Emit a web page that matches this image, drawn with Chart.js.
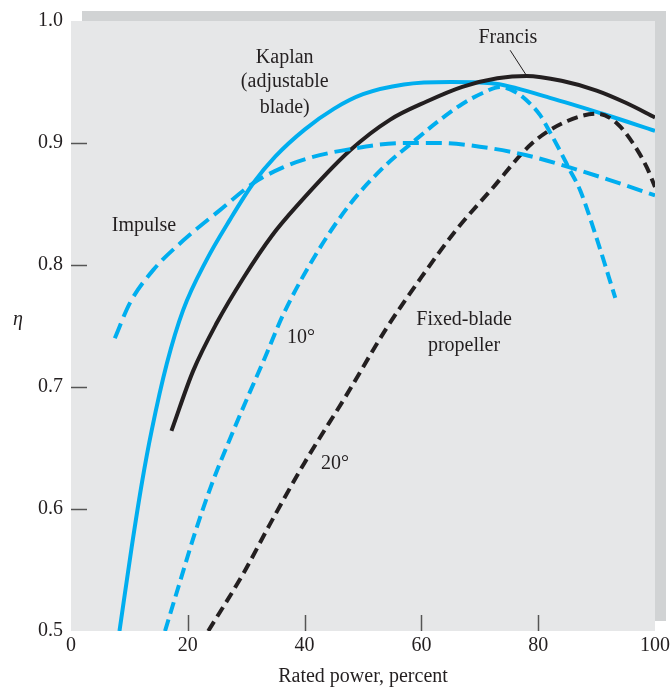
<!DOCTYPE html>
<html>
<head>
<meta charset="utf-8">
<script src="https://cdn.jsdelivr.net/npm/chart.js@4/dist/chart.umd.min.js"></script>
<style>
html,body{margin:0;padding:0;background:#fff;}
#wrap{width:671px;height:689px;}
</style>
</head>
<body>
<div id="wrap"><canvas id="c" width="671" height="689"></canvas></div>
<script>
// Rated power, percent (x) and efficiency eta (y)
const kaplanX  = [8.3, 10.4, 12.2, 13.8, 16.4, 19.2, 23.2, 27.2, 31.2, 35, 40, 45, 50, 57, 65, 72, 82, 91, 100];
const kaplanY  = [0.5, 0.569, 0.623, 0.664, 0.719, 0.763, 0.804, 0.837, 0.867, 0.889, 0.911, 0.928, 0.940, 0.948, 0.950, 0.949, 0.937, 0.924, 0.910];

const francisX = [17.2, 20.9, 24.9, 29.6, 34.4, 38.6, 47.8, 54.6, 60.9, 67, 73, 78, 84, 90, 95, 100];
const francisY = [0.664, 0.713, 0.752, 0.790, 0.824, 0.848, 0.894, 0.919, 0.934, 0.946, 0.953, 0.955, 0.951, 0.943, 0.933, 0.921];

const impulseX = [7.5, 10.1, 14.1, 19.2, 25.5, 31.2, 36.3, 41, 47.8, 57, 63, 70, 78, 85.4, 92, 100];
const impulseY = [0.740, 0.769, 0.796, 0.820, 0.845, 0.867, 0.880, 0.888, 0.895, 0.900, 0.900, 0.897, 0.890, 0.880, 0.870, 0.857];

const prop10X  = [16.1, 18.7, 21.2, 24, 27, 30.1, 33.2, 36.4, 42.1, 47.8, 53.5, 58.6, 63.2, 67, 70.5, 73.5, 76.4, 78, 80.3, 82, 83.7, 85.4, 87.2, 90, 93.2];
const prop10Y  = [0.5, 0.541, 0.580, 0.619, 0.655, 0.690, 0.724, 0.760, 0.810, 0.850, 0.880, 0.901, 0.919, 0.932, 0.941, 0.946, 0.941, 0.935, 0.923, 0.909, 0.894, 0.878, 0.861, 0.822, 0.773];

const prop20X  = [23.5, 29.5, 34, 40, 47, 54, 60, 66, 72, 79, 85, 90.2, 93.5, 96.2, 98.6, 100];
const prop20Y  = [0.5, 0.547, 0.587, 0.638, 0.692, 0.748, 0.790, 0.829, 0.862, 0.900, 0.918, 0.924, 0.916, 0.900, 0.880, 0.864];

const xTicks = [0, 20, 40, 60, 80, 100];
const yTicks = [0.5, 0.6, 0.7, 0.8, 0.9, 1.0];

const BLUE = '#00aeef';
const BLACK = '#231f20';
const FONT = '"Liberation Serif", "Times New Roman", serif';

function pts(xs, ys){ return xs.map((x,i)=>({x:x, y:ys[i]})); }

const labels = [
  {t:'Kaplan', x:36.6, y:0.970},
  {t:'(adjustable', x:36.6, y:0.950},
  {t:'blade)', x:36.6, y:0.929},
  {t:'Francis', x:74.8, y:0.986},
  {t:'Impulse', x:12.5, y:0.832},
  {t:'10°', x:39.4, y:0.740},
  {t:'20°', x:45.2, y:0.637},
  {t:'Fixed-blade', x:67.3, y:0.755},
  {t:'propeller', x:67.3, y:0.734}
];

const decor = {
  id:'decor',
  beforeDraw(chart){
    const {ctx, chartArea:a} = chart;
    ctx.save();
    ctx.fillStyle = '#d1d3d4';
    ctx.fillRect(a.left+11, a.top-10, a.right-a.left, a.bottom-a.top);
    ctx.fillStyle = '#e6e7e8';
    ctx.fillRect(a.left, a.top, a.right-a.left, a.bottom-a.top);
    ctx.restore();
  },
  beforeDatasetsDraw(chart){
    const {ctx, chartArea:a, scales} = chart;
    ctx.save();
    ctx.strokeStyle = '#555';
    ctx.lineWidth = 1.5;
    xTicks.slice(1,-1).forEach(v=>{
      const px = Math.round(scales.x.getPixelForValue(v))+0.5;
      ctx.beginPath(); ctx.moveTo(px, a.bottom); ctx.lineTo(px, a.bottom-16); ctx.stroke();
    });
    yTicks.slice(1,-1).forEach(v=>{
      const py = Math.round(scales.y.getPixelForValue(v))+0.5;
      ctx.beginPath(); ctx.moveTo(a.left, py); ctx.lineTo(a.left+16, py); ctx.stroke();
    });
    ctx.restore();
  },
  afterDraw(chart){
    const {ctx, scales} = chart;
    ctx.save();
    ctx.fillStyle = BLACK;
    ctx.font = '20px ' + FONT;
    ctx.textAlign = 'center';
    ctx.textBaseline = 'middle';
    labels.forEach(l=>{
      ctx.fillText(l.t, scales.x.getPixelForValue(l.x), scales.y.getPixelForValue(l.y));
    });
    // leader line for Francis
    ctx.strokeStyle = BLACK;
    ctx.lineWidth = 1;
    ctx.beginPath();
    ctx.moveTo(scales.x.getPixelForValue(75.2), scales.y.getPixelForValue(0.976));
    ctx.lineTo(scales.x.getPixelForValue(77.9), scales.y.getPixelForValue(0.956));
    ctx.stroke();
    // eta axis label
    ctx.font = 'italic 20px ' + FONT;
    ctx.fillText('η', 18, scales.y.getPixelForValue(0.755));
    ctx.restore();
  }
};

const common = {pointRadius:0, fill:false, cubicInterpolationMode:'monotone', borderCapStyle:'butt'};

new Chart(document.getElementById('c'), {
  type:'scatter',
  data:{
    datasets:[
      Object.assign({label:'Impulse', data:pts(impulseX, impulseY), borderColor:BLUE, borderWidth:4, borderDash:[16,7], showLine:true}, common),
      Object.assign({label:'Fixed-blade 20°', data:pts(prop20X, prop20Y), borderColor:BLACK, borderWidth:4, borderDash:[11,6], showLine:true}, common),
      Object.assign({label:'Fixed-blade 10°', data:pts(prop10X, prop10Y), borderColor:BLUE, borderWidth:4, borderDash:[12,6], showLine:true}, common),
      Object.assign({label:'Francis', data:pts(francisX, francisY), borderColor:BLACK, borderWidth:4, showLine:true}, common),
      Object.assign({label:'Kaplan', data:pts(kaplanX, kaplanY), borderColor:BLUE, borderWidth:4, showLine:true}, common)
    ]
  },
  options:{
    responsive:false,
    animation:false,
    events:[],
    layout:{padding:{top:21, right:16, left:0, bottom:0}},
    plugins:{legend:{display:false}, tooltip:{enabled:false}},
    scales:{
      x:{
        type:'linear', min:0, max:100,
        afterBuildTicks(s){ s.ticks = xTicks.map(v=>({value:v})); },
        afterFit(s){ s.height = 58; s.paddingRight = 0; s.paddingLeft = 0; },
        grid:{display:false, drawTicks:false},
        border:{display:false},
        ticks:{color:BLACK, font:{family:FONT, size:20}, padding:3, maxRotation:0},
        title:{display:true, text:'Rated power, percent', color:BLACK, font:{family:FONT, size:20}, padding:{top:0, bottom:0}}
      },
      y:{
        type:'linear', min:0.5, max:1.0,
        afterBuildTicks(s){ s.ticks = yTicks.map(v=>({value:v})); },
        afterFit(s){ s.width = 71; },
        grid:{display:false, drawTicks:false},
        border:{display:false},
        ticks:{color:BLACK, font:{family:FONT, size:20}, padding:8, callback:v=>v.toFixed(1)}
      }
    }
  },
  plugins:[decor]
});
</script>
</body>
</html>
